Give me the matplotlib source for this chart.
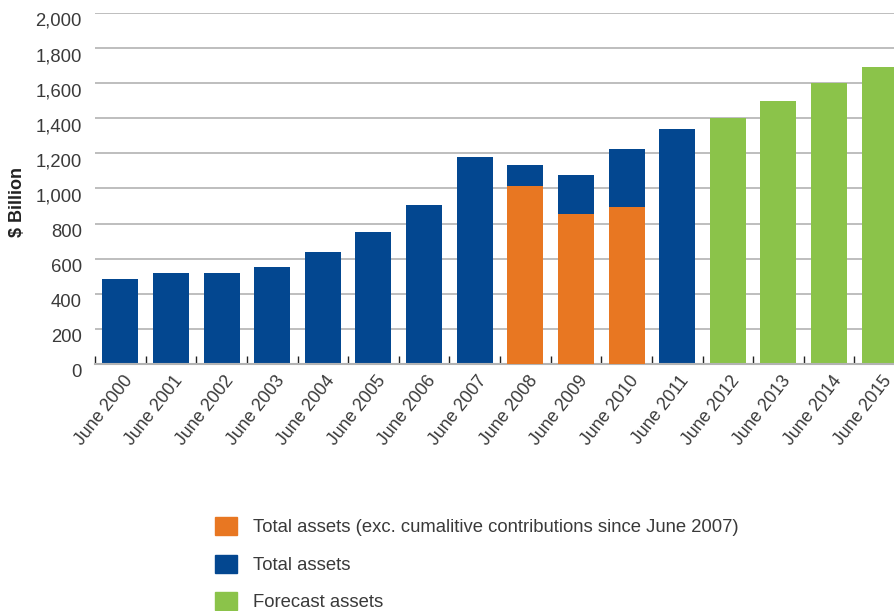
import numpy as np
import matplotlib
matplotlib.use("AGG")
import matplotlib.pyplot as plt
import matplotlib.transforms as mtransforms
from matplotlib.patches import Patch
from matplotlib.ticker import FuncFormatter

# fund assets by financial year end ($ billion)
years = ['June 2000', 'June 2001', 'June 2002', 'June 2003', 'June 2004', 'June 2005',
         'June 2006', 'June 2007', 'June 2008', 'June 2009', 'June 2010', 'June 2011',
         'June 2012', 'June 2013', 'June 2014', 'June 2015']
total_assets = [485, 520, 520, 550, 640, 750, 905, 1180, 1135, 1075, 1225, 1340]
exc_contrib_years = ['June 2008', 'June 2009', 'June 2010']
exc_contrib_assets = [1015, 855, 895]
forecast_years = ['June 2012', 'June 2013', 'June 2014', 'June 2015']
forecast_assets = [1400, 1500, 1600, 1690]

labels = ['Total assets (exc. cumalitive contributions since June 2007)',
          'Total assets', 'Forecast assets']
c_blue = '#034790'
c_orange = '#e87722'
c_green = '#8bc34a'
txt_col = '#3a3a3a'

plt.rcParams['font.family'] = ['Liberation Sans', 'DejaVu Sans']

fig = plt.figure(figsize=(8.95, 6.11), dpi=100)
ax = fig.add_axes([95/895, 247/611, 810/895, 351/611])

pos = {y: i for i, y in enumerate(years)}
bw = 0.71
ax.bar([pos[y] for y in years[:len(total_assets)]], total_assets, width=bw, color=c_blue, zorder=2)
ax.bar([pos[y] for y in exc_contrib_years], exc_contrib_assets, width=bw, color=c_orange, zorder=3)
ax.bar([pos[y] for y in forecast_years], forecast_assets, width=bw, color=c_green, zorder=2)

ax.set_xlim(-0.5, len(years) - 0.5)
ax.set_ylim(0, 2000)
ax.set_yticks(np.arange(0, 2001, 200))
ax.yaxis.set_major_formatter(FuncFormatter(lambda v, p: '{:,.0f}'.format(v)))
ax.yaxis.grid(True, color='#b3b3b3', linewidth=1.2, zorder=0)
ax.set_axisbelow(True)
for s in ['top', 'right', 'left']:
    ax.spines[s].set_visible(False)
ax.spines['bottom'].set_color('#b3b3b3')
ax.spines['bottom'].set_linewidth(1.5)

ax.tick_params(axis='y', length=0, pad=9.5, labelsize=13.3, labelcolor=txt_col)
ax.set_xticks(range(len(years)))
ax.set_xticklabels(years, rotation=52, ha='right', va='center', rotation_mode='anchor')
ax.set_xticks(np.arange(-0.5, len(years)), minor=True)
ax.tick_params(axis='x', which='major', length=0, pad=10, labelsize=12.8, labelcolor=txt_col)
ax.tick_params(axis='x', which='minor', direction='in', length=6, width=1, color='#222222')

# nudge tick labels the way the original layout sits them
dy = mtransforms.ScaledTranslation(0, -6.5/100, fig.dpi_scale_trans)
for t in ax.get_yticklabels():
    t.set_transform(t.get_transform() + dy)
dx = mtransforms.ScaledTranslation(9/100, 0, fig.dpi_scale_trans)
for t in ax.get_xticklabels():
    t.set_transform(t.get_transform() + dx)

ax.set_ylabel('$ Billion', fontsize=13, fontweight='bold', color='#222222')
ax.yaxis.label.set_va('center')
ax.yaxis.set_label_coords((18 - 95) / 810, (364 - 202) / 351)

handles = [Patch(color=c_orange), Patch(color=c_blue), Patch(color=c_green)]
fig.legend(handles, labels, loc='upper left', bbox_to_anchor=(215/895, 1 - 517/611),
           frameon=False, fontsize=13.3, labelcolor=txt_col, handlelength=1.2,
           handleheight=1.15, handletextpad=0.85, labelspacing=0.98, borderpad=0,
           borderaxespad=0)

plt.savefig("out.png", dpi=100)
